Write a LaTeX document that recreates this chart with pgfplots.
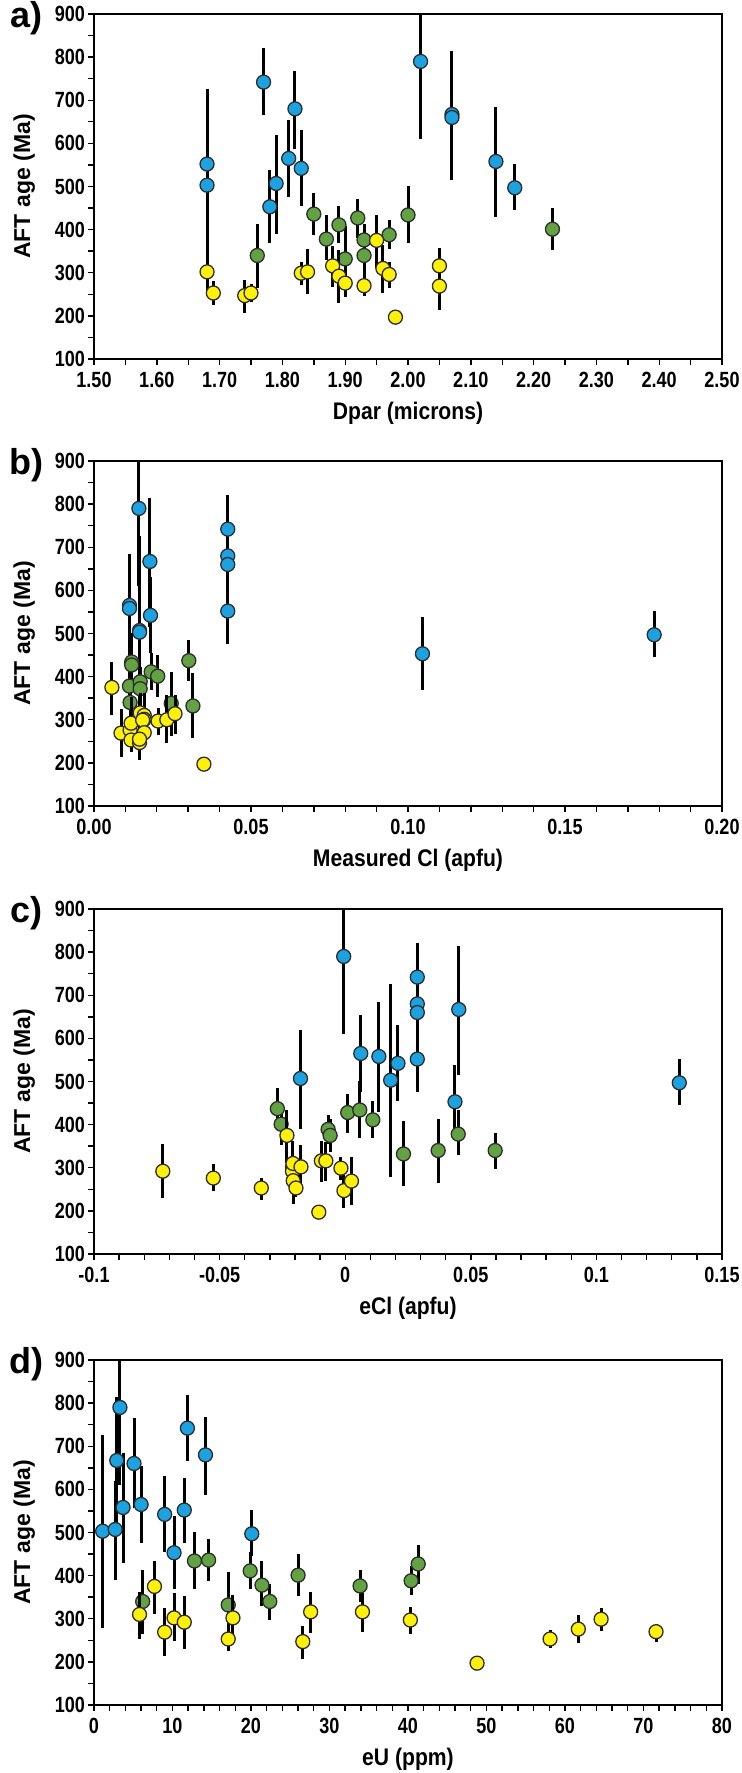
\documentclass[border=0pt]{standalone}
\usepackage{fontspec}
\setmainfont{Liberation Sans}
\newfontfamily\narrowfont{Liberation Sans}[FakeStretch=0.82]
\newfontfamily\semifont{Liberation Sans}[FakeStretch=0.88]
\usepackage{pgfplots}
\usepackage{pgfplotstable}
\pgfplotsset{compat=1.18}

\definecolor{cblue}{RGB}{28,162,224}
\definecolor{cgreen}{RGB}{98,162,66}
\definecolor{cyellow}{RGB}{255,240,10}
\definecolor{cedge}{RGB}{45,45,45}

% ---------- Panel a: Dpar ----------
\pgfplotstableread{
x y ep em
1.68 552 75 77
1.68 503 222 225
1.77 742 78 77
1.78 453 85 83
1.79 507 113 117
1.81 565 90 90
1.82 680 88 92
1.83 542 90 87
2.02 790 185 180
2.07 667 148 152
2.07 660 105 103
2.14 558 127 128
2.17 497 55 52
}\aBlue
\pgfplotstableread{
x y ep em
1.76 340 73 75
1.85 436 49 48
1.87 378 55 48
1.89 411 44 41
1.90 332 77 75
1.92 427 43 47
1.93 376 37 38
1.93 340 40 42
1.97 388 34 33
2.00 434 68 64
2.23 401 49 49
}\aGreen
\pgfplotstableread{
x y ep em
1.68 302 52 52
1.69 253 27 27
1.74 247 37 41
1.75 253 21 20
1.83 299 25 27
1.84 302 52 52
1.88 316 47 50
1.89 292 61 63
1.90 276 33 33
1.93 270 28 23
1.95 375 60 65
1.96 310 55 58
1.97 296 30 32
1.98 197 8 9
2.05 316 42 46
2.05 269 25 56
}\aYellow

% ---------- Panel b: Measured Cl ----------
\pgfplotstableread{
x y ep em
0.0143 790 185 180
0.0426 742 78 77
0.0426 680 88 92
0.0426 660 105 103
0.0426 552 75 77
0.0178 667 148 152
0.0113 565 90 90
0.0113 558 127 128
0.0180 542 90 87
0.0145 507 113 117
0.0145 503 222 225
0.1046 453 85 83
0.1784 497 55 52
}\bBlue
\pgfplotstableread{
x y ep em
0.0120 434 68 64
0.0120 427 43 47
0.0113 378 55 48
0.0115 340 40 42
0.0147 388 34 33
0.0147 372 37 38
0.0182 411 44 41
0.0203 401 49 49
0.0302 437 49 48
0.0246 338 73 75
0.0315 332 77 75
}\bGreen
\pgfplotstableread{
x y ep em
0.0057 375 60 65
0.0086 269 55 55
0.0115 276 33 33
0.0118 292 61 63
0.0118 253 25 27
0.0145 247 37 41
0.0147 316 47 50
0.0160 310 52 58
0.0160 301 52 52
0.0155 299 25 27
0.0160 270 18 23
0.0145 255 21 20
0.0204 297 30 32
0.0232 300 57 54
0.0258 314 44 46
0.0350 197 8 9
}\bYellow

% ---------- Panel c: eCl ----------
\pgfplotstableread{
x y ep em
-0.0006 790 185 180
0.0287 742 78 77
0.0287 680 88 92
0.0287 660 105 103
0.0287 552 75 77
0.0452 667 148 152
0.0062 565 90 90
0.0134 558 127 128
0.0210 542 90 87
-0.0178 507 113 117
0.0181 503 222 225
0.0437 453 85 83
0.1330 497 55 52
}\cBlue
\pgfplotstableread{
x y ep em
-0.0270 437 49 48
-0.0255 401 49 49
-0.0068 389 34 33
-0.0060 375 37 38
0.0010 428 43 47
0.0058 434 68 64
0.0110 411 44 41
0.0232 332 77 75
0.0370 340 73 75
0.0450 378 55 48
0.0597 340 40 42
}\cGreen
\pgfplotstableread{
x y ep em
-0.0726 292 62 62
-0.0525 276 33 31
-0.0334 253 23 27
-0.0232 375 60 65
-0.0210 301 52 52
-0.0210 292 30 32
-0.0208 310 52 58
-0.0207 270 55 55
-0.0196 253 21 20
-0.0176 302 50 50
-0.0105 197 8 9
-0.0095 316 47 50
-0.0077 316 44 46
-0.0017 299 25 27
-0.0005 247 37 41
0.0025 269 55 56
}\cYellow

% ---------- Panel d: eU ----------
\pgfplotstableread{
x y ep em
1.1 503 222 225
2.7 507 113 117
2.9 667 148 152
3.3 790 185 180
3.7 558 127 128
5.1 660 105 103
6.0 565 90 90
9.0 542 90 87
10.2 453 85 83
11.5 552 75 77
11.9 742 78 77
14.2 680 88 92
20.1 497 55 52
}\dBlue
\pgfplotstableread{
x y ep em
6.2 340 73 75
12.8 434 68 64
14.6 436 49 48
17.1 332 77 75
19.9 411 44 41
21.4 378 55 48
22.4 340 40 42
26.0 401 49 49
33.9 376 37 38
40.4 388 34 33
41.3 427 43 47
}\dGreen
\pgfplotstableread{
x y ep em
5.8 310 52 58
7.7 375 60 65
9.0 269 55 55
10.2 302 57 54
11.5 292 61 63
17.1 253 29 27
17.7 302 52 52
26.6 247 37 41
27.6 316 47 50
34.2 316 44 46
40.3 297 30 32
48.8 197 8 9
58.1 253 21 20
61.7 276 33 33
64.6 299 25 27
71.6 270 18 23
}\dYellow

\pgfplotsset{
  panel/.style={
    width=314pt, height=172.5pt, scale only axis,
    anchor=south west,
    ymin=100, ymax=900, ytick={100,200,300,400,500,600,700,800,900},
    yticklabels={100,200,300,400,500,600,700,800,900},
    minor y tick num=1,
    tick align=outside, xtick pos=bottom, ytick pos=left,
    major tick length=3pt, minor tick length=3pt,
    every tick/.style={black, line width=0.7pt},
    axis line style={line width=1pt},
    ticklabel style={font=\narrowfont\bfseries\fontsize{11}{12}\selectfont},
    yticklabel style={xshift=2pt},
    ylabel={AFT age (Ma)},
    ylabel style={font=\bfseries\fontsize{11.5}{13}\selectfont,
      at={(axis description cs:-0.111,0.5)}, anchor=center},
    xlabel style={font=\semifont\bfseries\fontsize{12}{14}\selectfont,
      at={(axis description cs:0.5,-0.158)}, anchor=center},
    clip mode=individual,
    scaled x ticks=false,
  },
  ser/.style={only marks, mark=*, mark size=3.5pt,
    mark options={fill=#1, draw=cedge, line width=0.65pt},
    error bars/.cd, y dir=both, y explicit, error mark=none,
    error bar style={line width=1.5pt, black}},
}
\newcommand{\series}[2]{%
  \addplot[ser=#2] table[x=x, y=y, y error plus=ep, y error minus=em] {#1};}
\newcommand{\panelletter}[1]{%
  \node[font=\bfseries\fontsize{18}{20}\selectfont, anchor=center] at (rel axis cs:-0.107,0.988) {#1};}

\begin{document}
\begin{tikzpicture}
\useasboundingbox (0,0) rectangle (371pt,886.5pt);

\begin{axis}[panel, at={(47pt,707pt)},
  xmin=1.5, xmax=2.5,
  xtick={1.5,1.6,1.7,1.8,1.9,2.0,2.1,2.2,2.3,2.4,2.5},
  xticklabels={1.50,1.60,1.70,1.80,1.90,2.00,2.10,2.20,2.30,2.40,2.50},
  minor x tick num=1,
  xlabel={Dpar (microns)}]
\series{\aBlue}{cblue}
\series{\aGreen}{cgreen}
\series{\aYellow}{cyellow}
\panelletter{a)}
\end{axis}

\begin{axis}[panel, at={(47pt,483.5pt)},
  xmin=0, xmax=0.2,
  xtick={0,0.05,0.1,0.15,0.2},
  xticklabels={0.00,0.05,0.10,0.15,0.20},
  minor x tick num=4,
  xlabel={Measured Cl (apfu)}]
\series{\bBlue}{cblue}
\series{\bGreen}{cgreen}
\series{\bYellow}{cyellow}
\panelletter{b)}
\end{axis}

\begin{axis}[panel, at={(47pt,259.5pt)},
  xmin=-0.1, xmax=0.15,
  xtick={-0.1,-0.05,0,0.05,0.1,0.15},
  xticklabels={-0.1,-0.05,0,0.05,0.1,0.15},
  minor x tick num=4,
  xlabel={eCl (apfu)}]
\series{\cBlue}{cblue}
\series{\cGreen}{cgreen}
\series{\cYellow}{cyellow}
\panelletter{c)}
\end{axis}

\begin{axis}[panel, at={(47pt,34pt)},
  xmin=0, xmax=80,
  xtick={0,10,20,30,40,50,60,70,80},
  xticklabels={0,10,20,30,40,50,60,70,80},
  minor x tick num=4,
  xlabel={eU (ppm)}]
\series{\dBlue}{cblue}
\series{\dGreen}{cgreen}
\series{\dYellow}{cyellow}
\panelletter{d)}
\end{axis}
\end{tikzpicture}
\end{document}
